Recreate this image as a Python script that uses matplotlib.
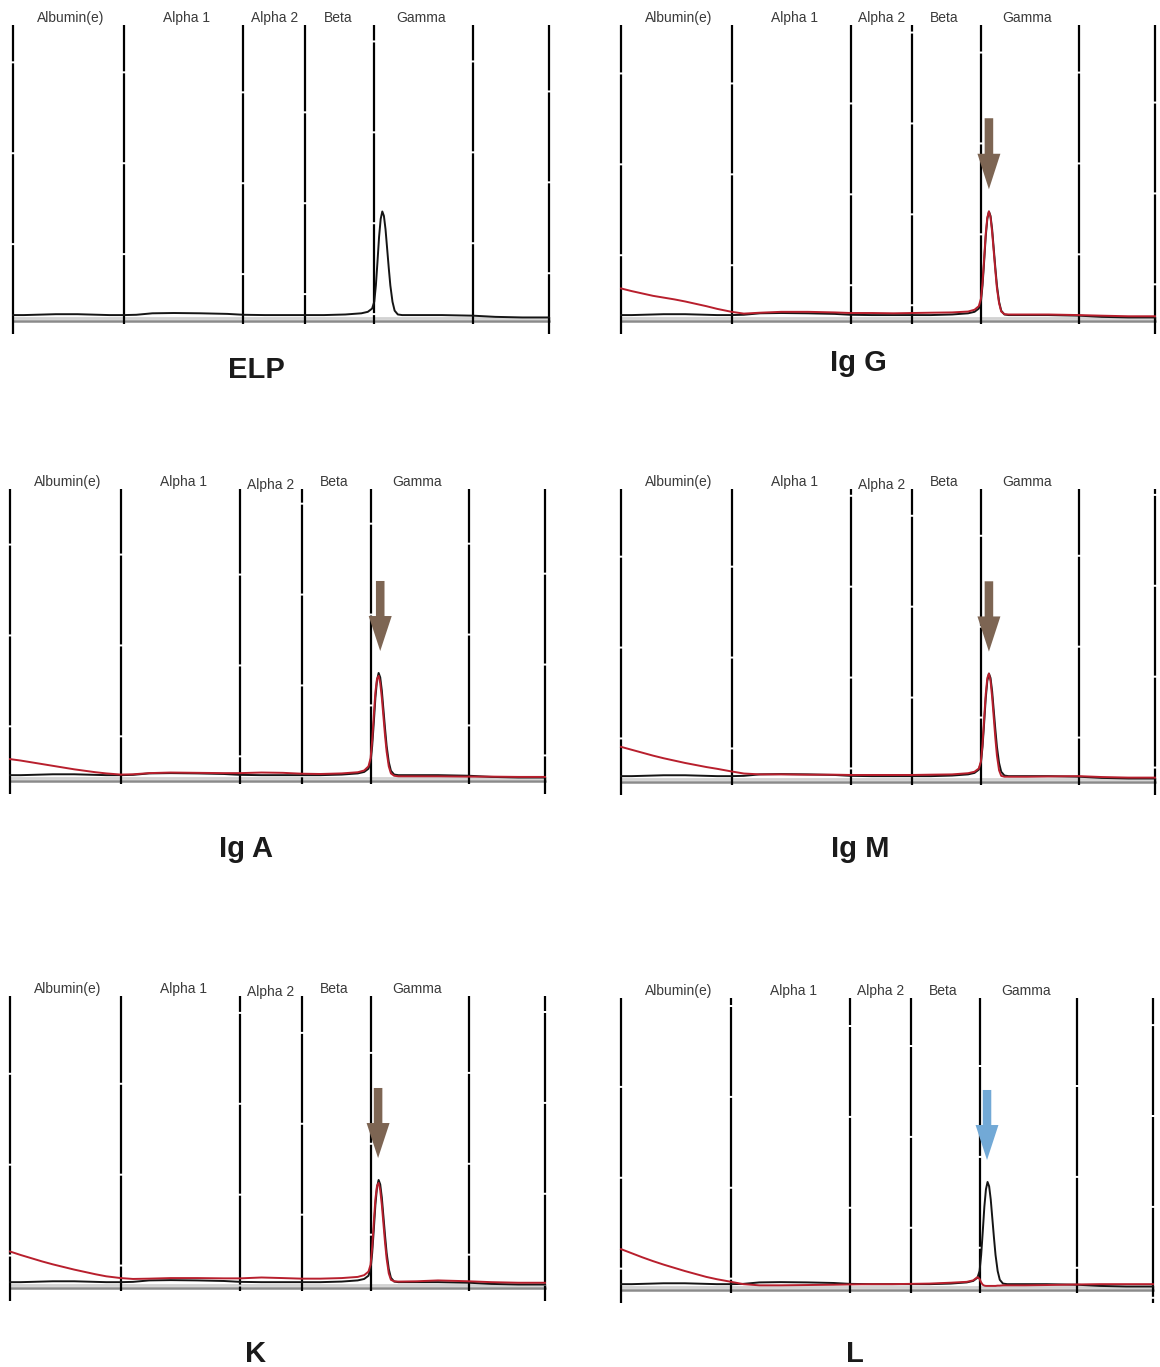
import matplotlib.pyplot as plt

plt.rcParams['font.family'] = ['Liberation Sans', 'DejaVu Sans']

# fraction boundaries (percent of the scan width)
bounds = [0, 20.7, 43.0, 54.5, 67.4, 85.8, 100]
fraction_names = ['Albumin(e)', 'Alpha 1', 'Alpha 2', 'Beta', 'Gamma']
name_pos = [10.8, 32.4, 48.8, 60.6, 76.1]

# scan positions (percent of width) where the traces were read
x_scan = [0, 2, 4, 6, 8, 10, 12, 14, 16, 18,
          20.7, 23, 26, 30, 35, 40, 43, 47, 51, 54.5,
          58, 62, 65, 66.2, 67.0, 67.4, 67.7, 68.0, 68.3, 68.6,
          68.9, 69.2, 69.5, 69.8, 70.1, 70.4, 70.8, 71.2, 71.8, 72.6,
          76, 80, 85.8, 90, 95, 100]

# reference electrophoresis trace (black)
elp = [2.0, 2.0, 2.1, 2.2, 2.3, 2.3, 2.3, 2.2, 2.1, 2.0,
       2.0, 2.1, 2.6, 2.7, 2.6, 2.4, 2.1, 2.0, 2.0, 2.0,
       2.0, 2.2, 2.6, 3.1, 4.2, 6.5, 12.0, 20.0, 28.5, 34.5,
       37.0, 35.5, 31.0, 24.5, 18.0, 12.0, 6.5, 3.5, 2.2, 2.0,
       2.0, 2.0, 1.8, 1.4, 1.2, 1.2]

# immunotyping traces (red)
igg = [11.0, 10.1, 9.3, 8.5, 7.9, 7.3, 6.6, 5.8, 5.0, 4.1,
       3.1, 2.5, 2.8, 3.1, 3.1, 2.9, 2.7, 2.7, 2.6, 2.7,
       2.8, 2.9, 3.2, 3.8, 5.0, 7.5, 13.0, 21.0, 29.5, 35.0,
       37.0, 35.0, 30.0, 23.5, 17.0, 11.0, 6.0, 3.2, 2.3, 2.2,
       2.2, 2.2, 2.0, 1.8, 1.6, 1.6]
iga = [7.5, 7.0, 6.4, 5.8, 5.2, 4.6, 4.0, 3.5, 3.0, 2.6,
       2.2, 2.3, 2.7, 2.9, 2.8, 2.7, 2.7, 2.9, 2.8, 2.5,
       2.4, 2.6, 3.0, 3.6, 5.0, 7.8, 14.0, 22.5, 30.5, 35.0,
       36.0, 33.5, 28.5, 22.0, 15.5, 10.0, 5.0, 2.6, 1.8, 1.6,
       1.6, 1.6, 1.5, 1.5, 1.4, 1.4]
igm = [12.0, 11.0, 10.0, 9.0, 8.1, 7.3, 6.5, 5.8, 5.1, 4.5,
       3.6, 2.9, 2.6, 2.6, 2.5, 2.5, 2.4, 2.4, 2.4, 2.4,
       2.5, 2.6, 3.0, 3.5, 4.6, 7.0, 13.0, 21.5, 30.0, 35.5,
       37.0, 34.5, 29.0, 22.0, 15.0, 9.0, 4.0, 2.1, 1.8, 1.8,
       1.8, 1.9, 2.0, 1.7, 1.5, 1.5]
kappa = [12.5, 11.3, 10.2, 9.1, 8.1, 7.2, 6.3, 5.5, 4.7, 4.0,
         3.4, 3.1, 3.2, 3.4, 3.4, 3.3, 3.3, 3.6, 3.4, 3.2,
         3.2, 3.4, 3.8, 4.4, 5.6, 8.0, 14.0, 22.5, 30.5, 35.0,
         36.0, 33.5, 28.5, 22.0, 15.5, 10.0, 5.0, 2.8, 2.3, 2.2,
         2.3, 2.6, 2.3, 2.0, 1.8, 1.8]
lam = [14.0, 12.6, 11.2, 9.9, 8.7, 7.6, 6.5, 5.5, 4.5, 3.7,
       2.8, 2.0, 1.6, 1.6, 1.7, 1.8, 1.9, 2.0, 2.0, 2.1,
       2.2, 2.5, 2.8, 3.3, 4.4, 3.8, 2.6, 1.8, 1.5, 1.4,
       1.4, 1.4, 1.4, 1.4, 1.4, 1.4, 1.5, 1.5, 1.6, 1.6,
       1.6, 1.7, 1.9, 2.0, 2.0, 2.0]

titles = ['ELP', 'Ig G', 'Ig A', 'Ig M', 'K', 'L']
red_traces = [None, igg, iga, igm, kappa, lam]
arrow_colors = [None, '#7d6553', '#7d6553', '#7d6553', '#7d6553', '#72a9d6']
arrow_x = [None, 68.9, 69.2, 68.9, 68.8, 68.8]

# panel geometry in pixels: x left, x right, top of lines, axis line
panels = [
    (13, 549, 25, 321),
    (621, 1155, 25, 321),
    (10, 545, 489, 781),
    (621, 1155, 489, 782),
    (10, 545, 996, 1288),
    (621, 1153, 998, 1290),
]
title_xy = [(256, 378), (858, 371), (246, 857), (860, 857), (256, 1362), (855, 1362)]
alpha2_drop = [0, 0, 1.0, 1.0, 1.0, 0]

W, H = 1160, 1367
fig = plt.figure(figsize=(W / 100, H / 100), dpi=100)

XL, XR, YB, YT = -2, 102, -8, 106

for i in range(6):
    x0, x1, top, base = panels[i]
    xs = (x1 - x0) / 100
    ys = (base - top) / 100
    left = x0 + XL * xs
    right = x0 + XR * xs
    bottom = base - YB * ys
    upper = base - YT * ys
    ax = fig.add_axes([left / W, 1 - bottom / H, (right - left) / W, (bottom - upper) / H])
    ax.set_xlim(XL, XR)
    ax.set_ylim(YB, YT)
    ax.axis('off')

    # axis lines
    ax.plot([0, 100], [1.0, 1.0], color='#d2d2d2', lw=2, zorder=1)
    ax.plot([0, 100], [0, 0], color='#8a8a8a', lw=1.8, zorder=2)

    # fraction separators
    for j, b in enumerate(bounds):
        ylow = -4.5 if j in (0, len(bounds) - 1) else -1
        ax.plot([b, b], [ylow, 100], color='black', lw=1.6,
                linestyle=(9 * j + 5 * i, (40, 0.9)), zorder=3)

    for k, (name, pos) in enumerate(zip(fraction_names, name_pos)):
        ypos = 102.3 - (alpha2_drop[i] if k == 2 else 0)
        ax.text(pos, ypos, name, ha='center', va='center', fontsize=10,
                color='#3a3a3a')

    ax.plot(x_scan, elp, color='#151515', lw=1.4, zorder=4)
    if red_traces[i] is not None:
        ax.plot(x_scan, red_traces[i], color='#b81f2d', lw=1.4, zorder=5)
        ax.arrow(arrow_x[i], 68.5, 0, -24, width=1.6, head_width=4.3,
                 head_length=12, length_includes_head=True,
                 color=arrow_colors[i], lw=0, zorder=6)

    fig.text(title_xy[i][0] / W, 1 - title_xy[i][1] / H, titles[i],
             ha='center', va='baseline', fontsize=21, fontweight='bold',
             color='#1a1a1a')

fig.savefig('out.png', dpi=100)
